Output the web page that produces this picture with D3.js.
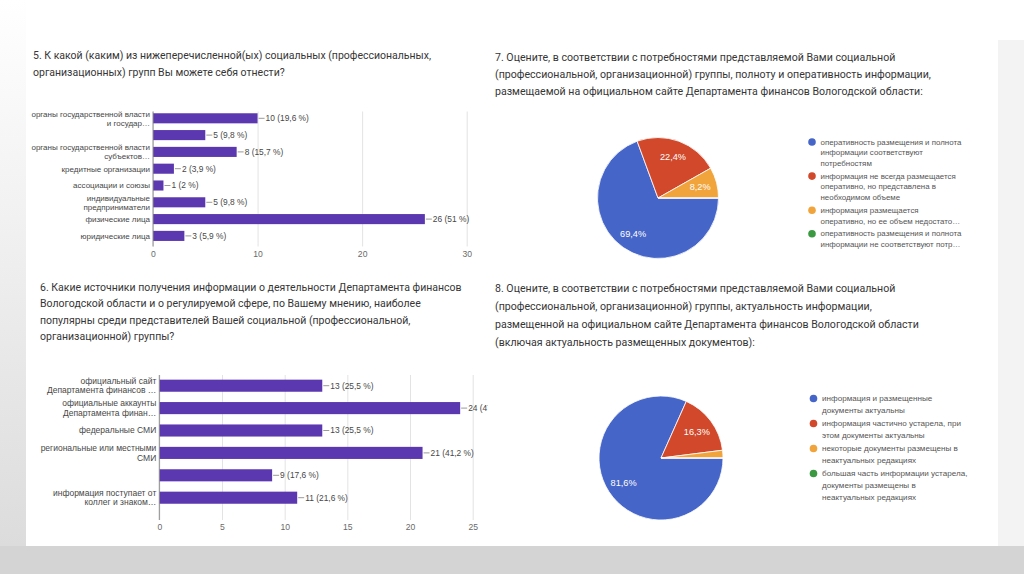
<!DOCTYPE html>
<html>
<head>
  <meta charset="utf-8">
  <script src="https://d3js.org/d3.v7.min.js"></script>
  <style>
    body { margin: 0; background: #ffffff; }
    svg { display: block; }
    .title { font-family: Roboto, "Open Sans", sans-serif; fill: #363636; }
    .chart text { font-family: "Liberation Sans", Arial, sans-serif; }
  </style>
</head>
<body>
<script type="text/javascript">

/* ---------------- data ---------------- */

var q5Title = [
  "5. К какой (каким) из нижеперечисленной(ых) социальных (профессиональных,",
  "организационных) групп Вы можете себя отнести?"
];
var q5Labels = [
  ["органы государственной власти", "и государ…"],
  [""],
  ["органы государственной власти", "субъектов…"],
  ["кредитные организации"],
  ["ассоциации и союзы"],
  ["индивидуальные", "предприниматели"],
  ["физические лица"],
  ["юридические лица"]
];
var q5Values = [10, 5, 8, 2, 1, 5, 26, 3];
var q5Pct = ["19,6", "9,8", "15,7", "3,9", "2", "9,8", "51", "5,9"];
var q5Ticks = [0, 10, 20, 30];

var q6Title = [
  "6. Какие источники получения информации о деятельности Департамента финансов",
  "Вологодской области и о регулируемой сфере, по Вашему мнению, наиболее",
  "популярны среди представителей Вашей социальной (профессиональной,",
  "организационной) группы?"
];
var q6Labels = [
  ["официальный сайт", "Департамента финансов …"],
  ["официальные аккаунты", "Департамента финан…"],
  ["федеральные СМИ"],
  ["региональные или местными", "СМИ"],
  [""],
  ["информация поступает от", "коллег и знаком…"]
];
var q6Values = [13, 24, 13, 21, 9, 11];
var q6Pct = ["25,5", "47,1", "25,5", "41,2", "17,6", "21,6"];
var q6Ticks = [0, 5, 10, 15, 20, 25];

var q7Title = [
  "7. Оцените, в соответствии с потребностями представляемой Вами социальной",
  "(профессиональной, организационной) группы, полноту и оперативность информации,",
  "размещаемой на официальном сайте Департамента финансов Вологодской области:"
];
var q7Legend = [
  ["оперативность размещения и полнота", "информации соответствуют", "потребностям"],
  ["информация не всегда размещается", "оперативно, но представлена в", "необходимом объеме"],
  ["информация размещается", "оперативно, но ее объем недостато…"],
  ["оперативность размещения и полнота", "информации не соответствуют потр…"]
];
var q7Values = [69.4, 22.4, 8.2, 0];

var q8Title = [
  "8. Оцените, в соответствии с потребностями представляемой Вами социальной",
  "(профессиональной, организационной) группы, актуальность информации,",
  "размещенной на официальном сайте Департамента финансов Вологодской области",
  "(включая актуальность размещенных документов):"
];
var q8Legend = [
  ["информация и размещенные", "документы актуальны"],
  ["информация частично устарела, при", "этом документы актуальны"],
  ["некоторые документы размещены в", "неактуальных редакциях"],
  ["большая часть информации устарела,", "документы размещены в", "неактуальных редакциях"]
];
var q8Values = [81.6, 16.3, 2.0, 0];

var pieColors = ["#4565c8", "#d1482b", "#f1a43c", "#3b9a41"];
var barColor = "#5c38b0";

/* ---------------- page ---------------- */

var W = 1024, H = 574;

var svg = d3.select("body").append("svg")
  .attr("width", W).attr("height", H);

var defs = svg.append("defs");
var lg = defs.append("linearGradient").attr("id", "leftShade")
  .attr("x1", 0).attr("y1", 0).attr("x2", 0).attr("y2", 1);
lg.append("stop").attr("offset", "0%").attr("stop-color", "#ffffff");
lg.append("stop").attr("offset", "100%").attr("stop-color", "#dcdcdc");

// photo frame around the slide
svg.append("rect").attr("x", 0).attr("y", 0).attr("width", 26).attr("height", 546)
  .attr("fill", "url(#leftShade)");
svg.append("rect").attr("x", 998).attr("y", 40).attr("width", 26).attr("height", 506)
  .attr("fill", "#f3f3f3");
svg.append("rect").attr("x", 0).attr("y", 546).attr("width", W).attr("height", H - 546)
  .attr("fill", "#d4d4d4");

function drawTitle(lines, x, y0, dy, size) {
  var t = svg.append("text").attr("class", "title").attr("font-size", size);
  lines.forEach(function(l, i) {
    t.append("tspan").attr("x", x).attr("y", y0 + i * dy).text(l);
  });
}

drawTitle(q5Title, 33, 59, 17, 10.5);
drawTitle(q6Title, 40, 291, 16.4, 10.5);
drawTitle(q7Title, 495, 61, 17.2, 10.6);
drawTitle(q8Title, 495, 292, 18, 10.6);

/* ---------------- bar charts ---------------- */

function barChart(opt) {
  var g = svg.append("g").attr("class", "chart");

  var clipId = opt.id + "_clip";
  defs.append("clipPath").attr("id", clipId)
    .append("rect").attr("x", 0).attr("y", opt.gridTop - 10)
    .attr("width", opt.clipRight).attr("height", opt.gridBottom - opt.gridTop + 30);
  g.attr("clip-path", "url(#" + clipId + ")");

  var x = d3.scaleLinear().domain(opt.domain).range(opt.xRange);
  var y = d3.scaleBand().domain(d3.range(opt.values.length))
    .range(opt.yRange).paddingInner(opt.pad).paddingOuter(opt.pad / 2);

  var axis = g.append("g")
    .attr("transform", "translate(0," + opt.gridBottom + ")")
    .call(d3.axisBottom(x).tickValues(opt.ticks)
      .tickSize(-(opt.gridBottom - opt.gridTop)).tickPadding(opt.tickPad));
  axis.select(".domain").remove();
  axis.selectAll(".tick line").attr("stroke", "#e3e3e3");
  axis.selectAll(".tick text").attr("fill", "#6a6a6a").attr("font-size", 8.6)
    .style("font-family", "Liberation Sans, Arial, sans-serif");

  g.selectAll("rect.bar")
    .data(opt.values).enter().append("rect")
    .attr("class", "bar")
    .attr("x", x(0))
    .attr("y", function(d, i) { return y(i); })
    .attr("width", function(d) { return x(d) - x(0); })
    .attr("height", y.bandwidth())
    .attr("fill", barColor);

  // baseline
  g.append("line")
    .attr("x1", x(0)).attr("x2", x(0))
    .attr("y1", opt.gridTop).attr("y2", opt.gridBottom)
    .attr("stroke", "#8c8c8c");

  // value annotations
  g.selectAll("line.stem")
    .data(opt.values).enter().append("line")
    .attr("class", "stem")
    .attr("x1", function(d) { return x(d) + 1; })
    .attr("x2", function(d) { return x(d) + 7; })
    .attr("y1", function(d, i) { return y(i) + y.bandwidth() / 2; })
    .attr("y2", function(d, i) { return y(i) + y.bandwidth() / 2; })
    .attr("stroke", "#9a9a9a");

  g.selectAll("text.val")
    .data(opt.values).enter().append("text")
    .attr("class", "val")
    .attr("x", function(d) { return x(d) + 8; })
    .attr("y", function(d, i) { return y(i) + y.bandwidth() / 2; })
    .attr("dy", "0.35em")
    .attr("font-size", 8.4)
    .attr("fill", "#474747")
    .text(function(d, i) { return d + " (" + opt.pct[i] + " %)"; });

  // category labels
  var cat = g.selectAll("text.cat")
    .data(opt.labels).enter().append("text")
    .attr("class", "cat")
    .attr("text-anchor", "end")
    .attr("font-size", opt.labelSize)
    .attr("fill", "#474747");
  cat.each(function(lines, i) {
    var cy = y(i) + y.bandwidth() / 2;
    var off = (lines.length - 1) * opt.lineH / 2;
    d3.select(this).selectAll("tspan").data(lines).enter().append("tspan")
      .attr("x", x(0) - 3)
      .attr("y", function(l, j) { return cy - off + j * opt.lineH; })
      .attr("dy", "0.35em")
      .text(function(l) { return l; });
  });
}

barChart({
  id: "q5", values: q5Values, pct: q5Pct, labels: q5Labels, ticks: q5Ticks,
  domain: [0, 30], xRange: [153, 466.7],
  yRange: [109.9, 244.3], pad: 0.4,
  gridTop: 111.5, gridBottom: 246.5, tickPad: 4.5,
  labelSize: 8.0, lineH: 8.8, clipRight: 500
});

barChart({
  id: "q6", values: q6Values, pct: q6Pct, labels: q6Labels, ticks: q6Ticks,
  domain: [0, 25], xRange: [159.3, 472.7],
  yRange: [374.5, 508.9], pad: 0.46,
  gridTop: 375, gridBottom: 520, tickPad: 4,
  labelSize: 8.5, lineH: 9.6, clipRight: 488
});

/* ---------------- pie charts ---------------- */

function pieChart(opt) {
  var g = svg.append("g").attr("class", "chart")
    .attr("transform", "translate(" + opt.cx + "," + opt.cy + ")");

  var pie = d3.pie().sort(null).value(function(d) { return d; })
    .startAngle(Math.PI / 2).endAngle(Math.PI / 2 + 2 * Math.PI);
  var arcs = pie(opt.values);
  var arc = d3.arc().innerRadius(0).outerRadius(opt.r);
  var labelArc = d3.arc().innerRadius(opt.r * 0.72).outerRadius(opt.r * 0.72);

  g.selectAll("path").data(arcs).enter().append("path")
    .attr("d", arc)
    .attr("fill", function(d, i) { return pieColors[i]; })
    .attr("stroke", "#ffffff").attr("stroke-width", 0.8);

  g.selectAll("text.pl").data(arcs.filter(function(d) { return d.data >= 5; }))
    .enter().append("text")
    .attr("class", "pl")
    .attr("transform", function(d) { return "translate(" + labelArc.centroid(d) + ")"; })
    .attr("text-anchor", "middle").attr("dy", "0.35em")
    .attr("font-size", 9.2).attr("fill", "#ffffff")
    .text(function(d) { return String(d.data.toFixed(1)).replace(".", ",") + "%"; });

  // legend
  var lgd = svg.append("g").attr("class", "chart");
  var yPos = opt.legendY;
  opt.legend.forEach(function(lines, i) {
    lgd.append("circle").attr("cx", opt.legendX).attr("cy", yPos)
      .attr("r", 3.8).attr("fill", pieColors[i]);
    var t = lgd.append("text").attr("font-size", opt.legendSize).attr("fill", "#555555");
    lines.forEach(function(l, j) {
      t.append("tspan").attr("x", opt.legendX + 8.5)
        .attr("y", yPos + j * opt.legendLineH).attr("dy", "0.35em").text(l);
    });
    yPos += lines.length * opt.legendLineH + opt.legendGap;
  });
}

pieChart({
  values: q7Values, legend: q7Legend, cx: 658, cy: 198, r: 60.5,
  legendX: 812, legendY: 142, legendSize: 7.9, legendLineH: 10.6, legendGap: 2.3
});

pieChart({
  values: q8Values, legend: q8Legend, cx: 661, cy: 458, r: 62,
  legendX: 813.5, legendY: 398.5, legendSize: 8.1, legendLineH: 11.6, legendGap: 1.8
});

</script>
</body>
</html>
